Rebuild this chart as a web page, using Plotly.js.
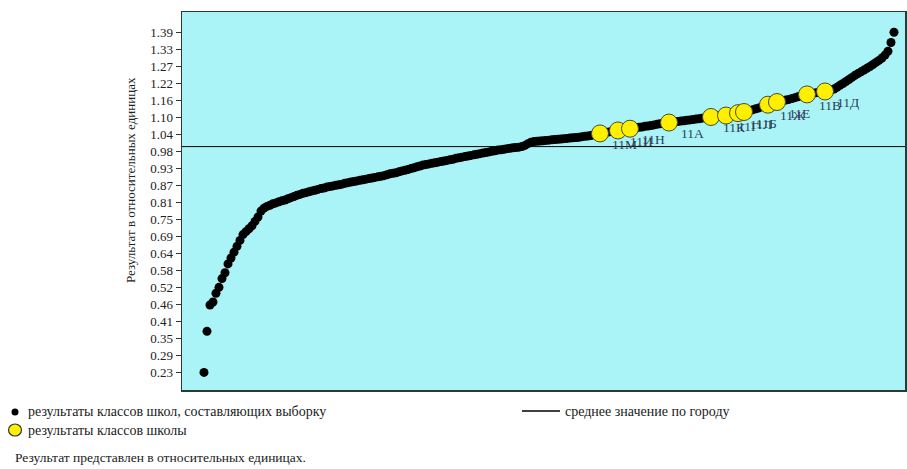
<!DOCTYPE html>
<html>
<head>
<meta charset="utf-8">
<script src="https://cdn.plot.ly/plotly-3.0.1.min.js"></script>
<style>html,body{margin:0;padding:0;background:#fff}#chart{width:907px;height:469px}</style>
</head>
<body>
<div id="chart"></div>
<script>
// sample class results (sorted), relative units
const sampleValues = [
0.23,0.37,0.46,0.47,0.50,0.52,0.55,0.57,0.60,0.62,
0.64,0.66,0.68,0.70,0.71,0.72,0.73,0.745,0.76,0.78,
0.79,0.796,0.80,0.805,0.808,0.812,0.815,0.818,0.822,0.826,
0.83,0.834,0.837,0.841,0.843,0.846,0.849,0.851,0.854,0.857,
0.859,0.862,0.864,0.866,0.868,0.870,0.872,0.875,0.877,0.879,
0.881,0.883,0.885,0.887,0.889,0.891,0.893,0.895,0.897,0.899,
0.901,0.904,0.907,0.909,0.911,0.914,0.917,0.919,0.922,0.925,
0.928,0.931,0.934,0.937,0.939,0.941,0.943,0.945,0.947,0.949,
0.951,0.953,0.955,0.957,0.960,0.962,0.964,0.966,0.968,0.970,
0.972,0.974,0.976,0.978,0.980,0.982,0.984,0.986,0.988,0.989,
0.991,0.993,0.994,0.996,0.997,0.998,1.000,1.004,1.010,1.015,
1.017,1.018,1.019,1.020,1.021,1.022,1.023,1.024,1.025,1.026,
1.027,1.028,1.029,1.030,1.031,1.032,1.034,1.035,1.036,1.038,
1.040,1.042,1.045,1.047,1.049,1.050,1.052,1.054,1.055,1.057,
1.058,1.060,1.061,1.063,1.064,1.066,1.067,1.069,1.070,1.072,
1.074,1.076,1.078,1.079,1.081,1.082,1.084,1.085,1.086,1.087,
1.088,1.090,1.091,1.092,1.094,1.095,1.097,1.098,1.099,1.101,
1.102,1.103,1.104,1.105,1.106,1.108,1.110,1.112,1.114,1.116,
1.118,1.120,1.123,1.126,1.129,1.132,1.136,1.139,1.143,1.146,
1.149,1.152,1.155,1.157,1.159,1.161,1.164,1.167,1.170,1.173,
1.175,1.178,1.180,1.182,1.184,1.185,1.187,1.188,1.190,1.193,
1.196,1.202,1.209,1.215,1.222,1.229,1.236,1.243,1.249,1.255,
1.261,1.267,1.273,1.280,1.287,1.294,1.302,1.312,1.325,1.355,
1.39
];
const sampleRanks = sampleValues.map((v, i) => i + 1);

// school classes: rank position in the sample, value, label
const schoolRanks  = [133, 139, 143, 156, 170, 175, 179, 181, 189, 192, 202, 208];
const schoolValues = [1.045, 1.055, 1.061, 1.082, 1.101, 1.106, 1.114, 1.118, 1.143, 1.152, 1.178, 1.188];
const schoolLabels = ['11М', '11И', '11Н', '11А', '11К', '11Г', '11Л', '11Б', '11Ж', '11Е', '11В', '11Д'];

const cityMean = 1.0;

const tickValues = [0.23,0.288,0.346,0.404,0.462,0.52,0.578,0.636,0.694,0.752,0.81,0.868,0.926,0.984,1.042,1.10,1.158,1.216,1.274,1.332,1.39];
const tickLabels = ['0.23','0.29','0.35','0.41','0.46','0.52','0.58','0.64','0.69','0.75','0.81','0.87','0.93','0.98','1.04','1.10','1.16','1.22','1.27','1.33','1.39'];

const legendSample = 'результаты классов школ, составляющих выборку';
const legendSchool = 'результаты классов школы';
const legendMean = 'среднее значение по городу';
const footnote = 'Результат представлен в относительных единицах.';
const yTitle = 'Результат в относительных единицах';

// layout geometry (pixels)
const L = 182, R = 905, T = 12, B = 390;
const W = 907, H = 469;
const px = x => (x - L) / (R - L);
const py = y => (B - y) / (B - T);

const serif = 'Liberation Serif, Times New Roman, serif';
const textCol = '#1a1a1a';

const traces = [
  {
    x: sampleRanks, y: sampleValues, type: 'scatter', mode: 'markers',
    marker: {color: '#000000', size: 9, line: {width: 0}},
    hoverinfo: 'y', showlegend: false
  },
  {
    x: schoolRanks, y: schoolValues, text: schoolLabels, type: 'scatter', mode: 'markers',
    marker: {color: '#FFF000', size: 17, line: {color: '#4a4a30', width: 1}},
    hoverinfo: 'text+y', showlegend: false
  }
];

const labelAnnotations = schoolLabels.map((t, i) => ({
  x: schoolRanks[i], y: schoolValues[i], xref: 'x', yref: 'y',
  text: t, showarrow: false, xanchor: 'left', yanchor: 'middle',
  xshift: 10, yshift: -11,
  font: {family: serif, size: 13.5, color: '#2e3d55'}
}));

const layout = {
  width: W, height: H,
  margin: {l: L, r: W - R, t: T, b: H - B, pad: 0},
  paper_bgcolor: '#ffffff',
  plot_bgcolor: '#AAF4F8',
  showlegend: false,
  font: {family: serif, size: 12, color: textCol},
  xaxis: {
    range: [-6.33, 234.67], showticklabels: false, ticks: '', showgrid: false,
    zeroline: false, showline: true, linecolor: '#2a3a3a', linewidth: 1.5, mirror: true
  },
  yaxis: {
    range: [0.170, 1.459], tickmode: 'array', tickvals: tickValues, ticktext: tickLabels,
    ticks: 'outside', ticklen: 5, tickcolor: '#333', tickwidth: 1,
    showgrid: false, zeroline: false, showline: true, linecolor: '#2a3a3a', linewidth: 1.5, mirror: true,
    tickfont: {family: serif, size: 13, color: '#222'}
  },
  shapes: [
    {type: 'line', xref: 'paper', x0: 0, x1: 1, yref: 'y', y0: cityMean, y1: cityMean,
     line: {color: '#000000', width: 1}},
    {type: 'circle', xref: 'paper', yref: 'paper', xsizemode: 'pixel', ysizemode: 'pixel',
     xanchor: px(15), yanchor: py(412), x0: -3.5, x1: 3.5, y0: -3.5, y1: 3.5,
     fillcolor: '#000', line: {width: 0}},
    {type: 'circle', xref: 'paper', yref: 'paper', xsizemode: 'pixel', ysizemode: 'pixel',
     xanchor: px(15), yanchor: py(430), x0: -6.5, x1: 6.5, y0: -6, y1: 6,
     fillcolor: '#FFF000', line: {color: '#333', width: 1.2}},
    {type: 'line', xref: 'paper', yref: 'paper', x0: px(522), x1: px(560), y0: py(411), y1: py(411),
     line: {color: '#000', width: 1.5}}
  ],
  annotations: labelAnnotations.concat([
    {xref: 'paper', yref: 'paper', x: px(130), y: py(180), xanchor: 'center', yanchor: 'middle',
     textangle: -90, text: yTitle, showarrow: false, font: {family: serif, size: 13, color: '#222'}},
    {xref: 'paper', yref: 'paper', x: px(26), y: py(411), xanchor: 'left', yanchor: 'middle',
     text: legendSample, showarrow: false, font: {family: serif, size: 14, color: textCol}},
    {xref: 'paper', yref: 'paper', x: px(26), y: py(430), xanchor: 'left', yanchor: 'middle',
     text: legendSchool, showarrow: false, font: {family: serif, size: 14, color: textCol}},
    {xref: 'paper', yref: 'paper', x: px(563), y: py(411), xanchor: 'left', yanchor: 'middle',
     text: legendMean, showarrow: false, font: {family: serif, size: 14, color: textCol}},
    {xref: 'paper', yref: 'paper', x: px(13), y: py(457), xanchor: 'left', yanchor: 'middle',
     text: footnote, showarrow: false, font: {family: serif, size: 13.5, color: textCol}}
  ])
};

Plotly.newPlot('chart', traces, layout, {displayModeBar: false, staticPlot: true});
</script>
</body>
</html>
